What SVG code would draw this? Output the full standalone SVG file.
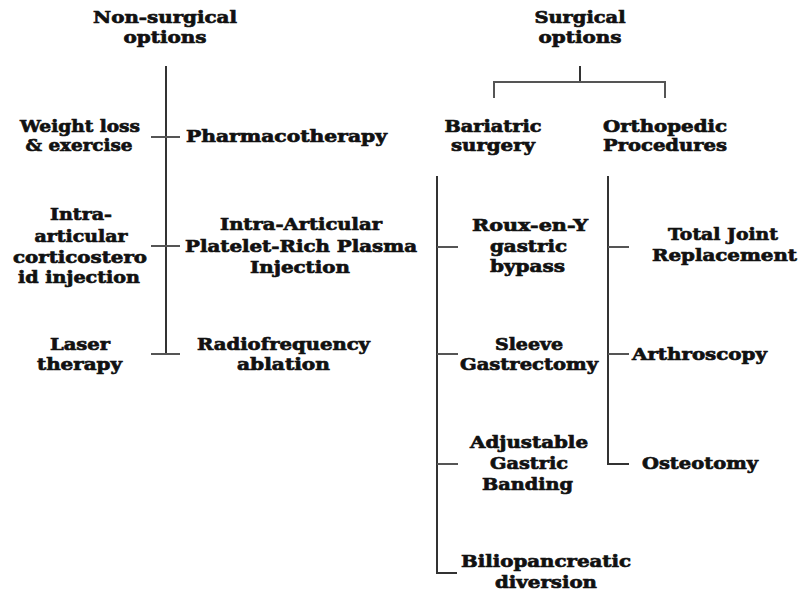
<svg xmlns="http://www.w3.org/2000/svg" width="802" height="592" viewBox="0 0 802 592">
<style>
text{font-family:"DejaVu Serif","Liberation Serif",serif;font-weight:bold;font-size:17.5px;fill:#111;stroke:#111;stroke-width:0.7;text-anchor:middle}
.l{text-anchor:start}
.c{stroke:#333;stroke-width:2;fill:none}
.t{stroke:#555;stroke-width:2;fill:none}
</style>
<rect width="802" height="592" fill="#fff"/>
<g id="connectors">
<path class="c" d="M166 66V354"/>
<path class="t" d="M151 137H180M151 246H180M151 354H180"/>
<path class="c" d="M580 66V82"/>
<path class="t" d="M494 98V82H665V98"/>
<path class="c" d="M437 176V573H457"/>
<path class="t" d="M437 247H458M437 354H458M437 464H458"/>
<path class="c" d="M608 176V464H629"/>
<path class="t" d="M608 247H629M608 354H629"/>
</g>
<g id="nonsurgical"><text x="165" y="23" textLength="144" lengthAdjust="spacingAndGlyphs">Non-surgical</text><text x="165" y="43" textLength="83" lengthAdjust="spacingAndGlyphs">options</text></g>
<g id="surgical"><text x="580" y="23" textLength="91" lengthAdjust="spacingAndGlyphs">Surgical</text><text x="580" y="43" textLength="83" lengthAdjust="spacingAndGlyphs">options</text></g>
<g id="weightloss"><text x="80" y="132" textLength="120" lengthAdjust="spacingAndGlyphs">Weight loss</text><text x="79" y="151" textLength="107" lengthAdjust="spacingAndGlyphs">&amp; exercise</text></g>
<g id="pharmaco"><text x="286.5" y="142" textLength="201" lengthAdjust="spacingAndGlyphs">Pharmacotherapy</text></g>
<g id="corticosteroid"><text x="81" y="220" textLength="62" lengthAdjust="spacingAndGlyphs">Intra-</text><text x="81" y="242" textLength="93" lengthAdjust="spacingAndGlyphs">articular</text><text x="80" y="263" textLength="134" lengthAdjust="spacingAndGlyphs">corticostero</text><text x="79" y="283" textLength="122" lengthAdjust="spacingAndGlyphs">id injection</text></g>
<g id="prp"><text x="301" y="230" textLength="162" lengthAdjust="spacingAndGlyphs">Intra-Articular</text><text x="301" y="252" textLength="232" lengthAdjust="spacingAndGlyphs">Platelet-Rich Plasma</text><text x="300" y="273" textLength="100" lengthAdjust="spacingAndGlyphs">Injection</text></g>
<g id="laser"><text x="80" y="350" textLength="60" lengthAdjust="spacingAndGlyphs">Laser</text><text x="79.5" y="370" textLength="85" lengthAdjust="spacingAndGlyphs">therapy</text></g>
<g id="rfa"><text x="283.5" y="350" textLength="173" lengthAdjust="spacingAndGlyphs">Radiofrequency</text><text x="283.5" y="370" textLength="93" lengthAdjust="spacingAndGlyphs">ablation</text></g>
<g id="bariatric"><text x="493" y="132" textLength="97" lengthAdjust="spacingAndGlyphs">Bariatric</text><text x="493" y="151" textLength="84" lengthAdjust="spacingAndGlyphs">surgery</text></g>
<g id="orthopedic"><text x="665" y="132" textLength="124" lengthAdjust="spacingAndGlyphs">Orthopedic</text><text x="665" y="151" textLength="124" lengthAdjust="spacingAndGlyphs">Procedures</text></g>
<g id="roux"><text x="530" y="231" textLength="116" lengthAdjust="spacingAndGlyphs">Roux-en-Y</text><text x="528.5" y="252" textLength="77" lengthAdjust="spacingAndGlyphs">gastric</text><text x="527.5" y="272" textLength="75" lengthAdjust="spacingAndGlyphs">bypass</text></g>
<g id="tjr"><text x="723" y="240" textLength="110" lengthAdjust="spacingAndGlyphs">Total Joint</text><text x="724.5" y="261" textLength="145" lengthAdjust="spacingAndGlyphs">Replacement</text></g>
<g id="sleeve"><text x="529" y="350" textLength="68" lengthAdjust="spacingAndGlyphs">Sleeve</text><text x="529" y="370" textLength="138" lengthAdjust="spacingAndGlyphs">Gastrectomy</text></g>
<g id="arthro"><text class="l" x="632" y="360" textLength="135" lengthAdjust="spacingAndGlyphs">Arthroscopy</text></g>
<g id="banding"><text x="529" y="448" textLength="118" lengthAdjust="spacingAndGlyphs">Adjustable</text><text x="529" y="469" textLength="78" lengthAdjust="spacingAndGlyphs">Gastric</text><text x="527.5" y="490" textLength="91" lengthAdjust="spacingAndGlyphs">Banding</text></g>
<g id="osteo"><text class="l" x="642" y="469" textLength="116" lengthAdjust="spacingAndGlyphs">Osteotomy</text></g>
<g id="bpd"><text x="546" y="567" textLength="170" lengthAdjust="spacingAndGlyphs">Biliopancreatic</text><text x="546" y="588" textLength="102" lengthAdjust="spacingAndGlyphs">diversion</text></g>
</svg>
